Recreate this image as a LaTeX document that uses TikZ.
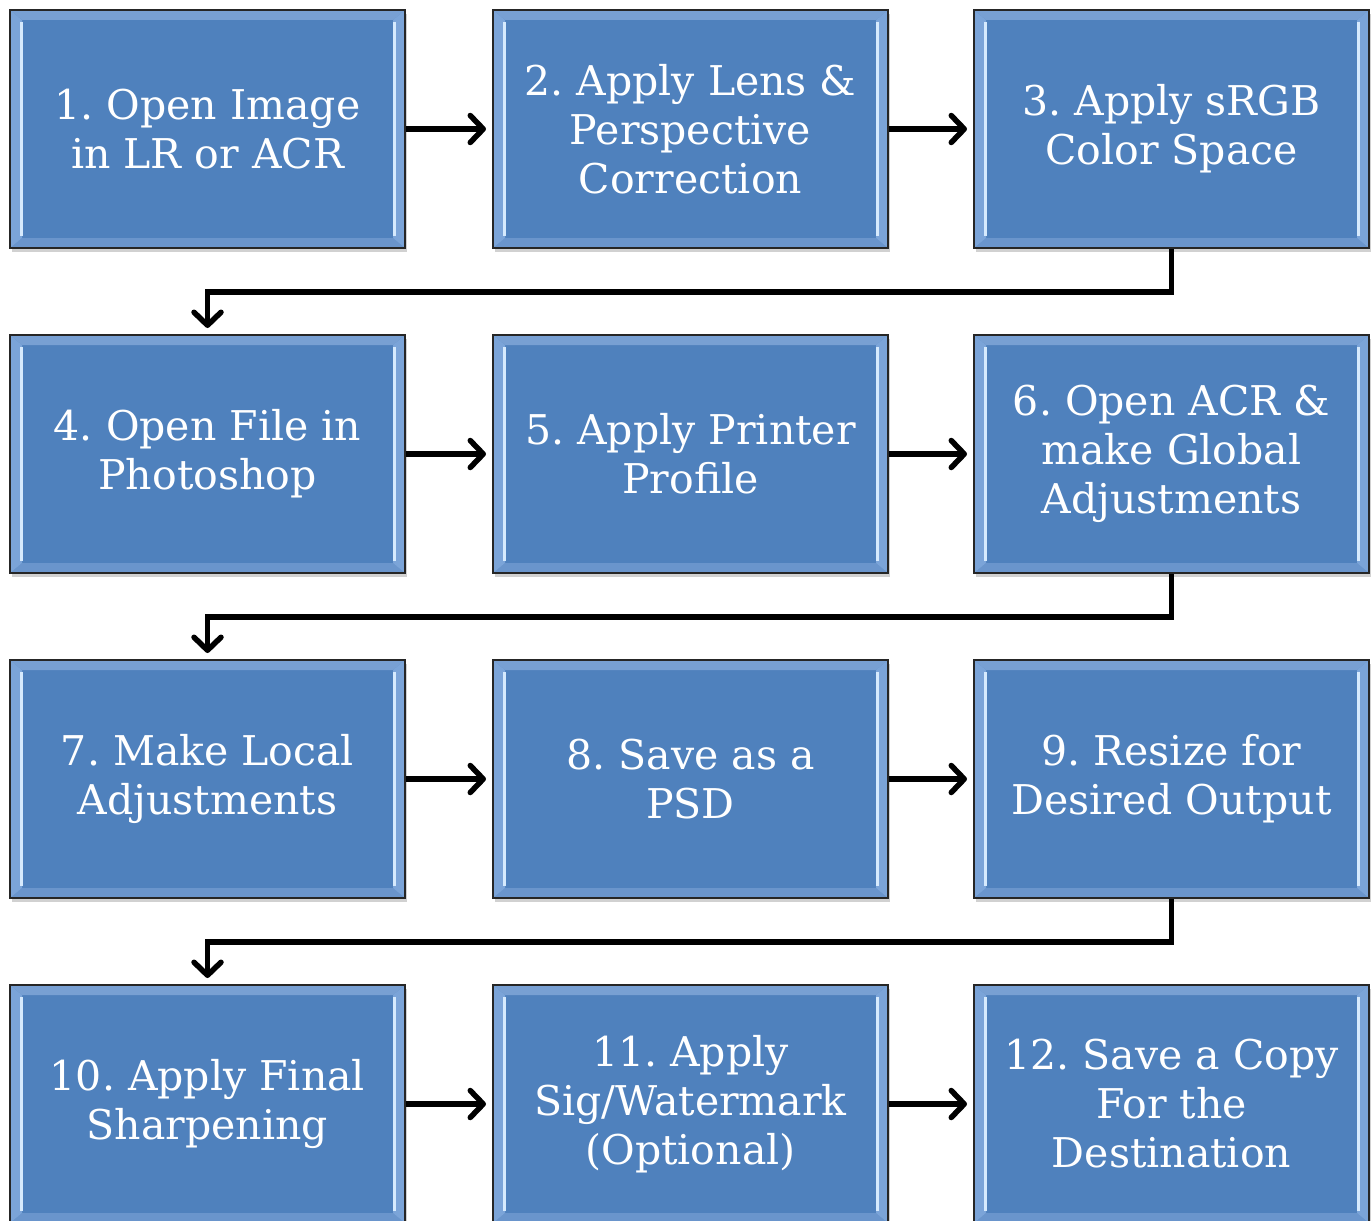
\documentclass[tikz,border=0pt]{standalone}
\usepackage{fontspec}
\setmainfont{DejaVu Serif}
\usetikzlibrary{arrows.meta,shadows,calc}
\frenchspacing
\definecolor{boxfill}{HTML}{4F81BD}
\definecolor{bevtop}{HTML}{78A0D3}
\definecolor{bevside}{HTML}{7BA4D8}
\definecolor{bevbot}{HTML}{6A95CC}
\definecolor{bevhi}{HTML}{D6EAFD}
\tikzset{
  stepbox/.style={
    rectangle, minimum width=395pt, minimum height=238pt, inner sep=0pt,
    fill=boxfill, draw=black!85, line width=2pt,
    text=white, align=center,
    font=\fontsize{41}{49}\selectfont,
    drop shadow={shadow xshift=2pt, shadow yshift=-4pt, opacity=0.18, fill=black},
    path picture={
      \fill[bevtop] (path picture bounding box.north west) -- (path picture bounding box.north east)
        -- ([xshift=-12pt,yshift=-10pt]path picture bounding box.north east)
        -- ([xshift=12pt,yshift=-10pt]path picture bounding box.north west) -- cycle;
      \fill[bevbot] (path picture bounding box.south west) -- (path picture bounding box.south east)
        -- ([xshift=-12pt,yshift=10pt]path picture bounding box.south east)
        -- ([xshift=12pt,yshift=10pt]path picture bounding box.south west) -- cycle;
      \fill[bevside] (path picture bounding box.north west) -- ([xshift=12pt,yshift=-10pt]path picture bounding box.north west)
        -- ([xshift=12pt,yshift=10pt]path picture bounding box.south west) -- (path picture bounding box.south west) -- cycle;
      \fill[bevside] (path picture bounding box.north east) -- ([xshift=-12pt,yshift=-10pt]path picture bounding box.north east)
        -- ([xshift=-12pt,yshift=10pt]path picture bounding box.south east) -- (path picture bounding box.south east) -- cycle;
      \draw[bevhi, line width=3pt] ([xshift=11pt,yshift=-12pt]path picture bounding box.north west) -- ([xshift=11pt,yshift=12pt]path picture bounding box.south west);
      \draw[bevhi, line width=3pt] ([xshift=-11pt,yshift=-12pt]path picture bounding box.north east) -- ([xshift=-11pt,yshift=12pt]path picture bounding box.south east);
    }
  },
  conn/.style={line width=5.5pt, draw=black, shorten >=6pt,
    -{Straight Barb[length=13pt,width=27pt,line cap=round,line join=round]}},
}
\begin{document}
\begin{tikzpicture}[x=1pt,y=-1pt]
\useasboundingbox (0,0) rectangle (1372,1220);
\clip (0,0) rectangle (1372,1220);
% row 1
\node[stepbox] (b1) at (207.5,129) {1. Open Image\\in LR or ACR};
\node[stepbox] (b2) at (690.5,129) {2. Apply Lens \&\\Perspective\\Correction};
\node[stepbox] (b3) at (1171.5,129) {3. Apply sRGB\\Color Space};
% row 2
\node[stepbox] (b4) at (207.5,454) {4. Open File in\\Photoshop};
\node[stepbox] (b5) at (690.5,454) {5. Apply Printer\\Profile};
\node[stepbox] (b6) at (1171.5,454) {6. Open ACR \&\\make Global\\Adjustments};
% row 3
\node[stepbox] (b7) at (207.5,779) {7. Make Local\\Adjustments};
\node[stepbox] (b8) at (690.5,779) {8. Save as a\\PSD};
\node[stepbox] (b9) at (1171.5,779) {9. Resize for\\Desired Output};
% row 4
\node[stepbox] (b10) at (207.5,1104) {10. Apply Final\\Sharpening};
\node[stepbox] (b11) at (690.5,1104) {11. Apply\\Sig/Watermark\\(Optional)};
\node[stepbox] (b12) at (1171.5,1104) {12. Save a Copy\\For the\\Destination};
% horizontal connectors
\draw[conn] (b1) -- (b2);
\draw[conn] (b2) -- (b3);
\draw[conn] (b4) -- (b5);
\draw[conn] (b5) -- (b6);
\draw[conn] (b7) -- (b8);
\draw[conn] (b8) -- (b9);
\draw[conn] (b10) -- (b11);
\draw[conn] (b11) -- (b12);
% elbow connectors
\draw[conn] (b3.south) -- ++(0,43) -| (b4.north);
\draw[conn] (b6.south) -- ++(0,43) -| (b7.north);
\draw[conn] (b9.south) -- ++(0,43) -| (b10.north);
\end{tikzpicture}
\end{document}
